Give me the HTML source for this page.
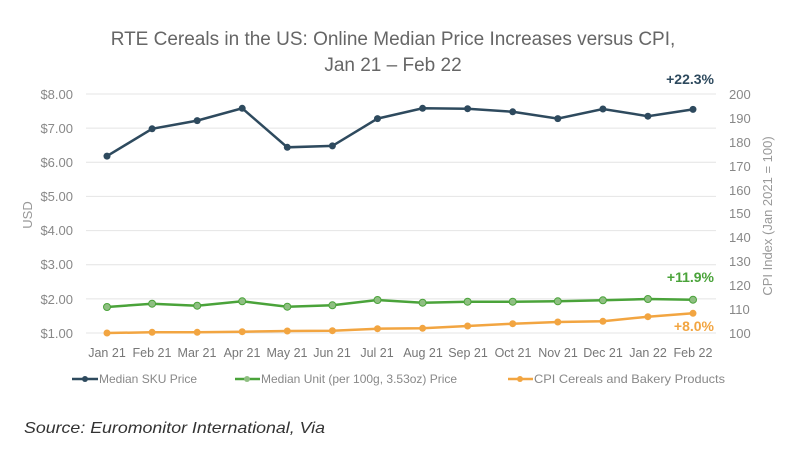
<!DOCTYPE html>
<html><head><meta charset="utf-8"><style>
html,body{margin:0;padding:0;background:#fff;}
svg text{font-family:"Liberation Sans",sans-serif;}
</style></head><body>
<svg width="800" height="454" viewBox="0 0 800 454" xmlns="http://www.w3.org/2000/svg">
<rect width="800" height="454" fill="#fff"/>
<text x="393" y="45" text-anchor="middle" font-size="19" fill="#666">RTE Cereals in the US: Online Median Price Increases versus CPI,</text>
<text x="393" y="71" text-anchor="middle" font-size="19" fill="#666">Jan 21 – Feb 22</text>
<g stroke="#e4e4e4" stroke-width="1">
<line x1="86" x2="716" y1="94" y2="94"/><line x1="86" x2="716" y1="128.1" y2="128.1"/>
<line x1="86" x2="716" y1="162.3" y2="162.3"/><line x1="86" x2="716" y1="196.4" y2="196.4"/>
<line x1="86" x2="716" y1="230.6" y2="230.6"/><line x1="86" x2="716" y1="264.7" y2="264.7"/>
<line x1="86" x2="716" y1="298.9" y2="298.9"/><line x1="86" x2="716" y1="333" y2="333"/>
</g>
<g font-size="13" fill="#888" text-anchor="end">
<text x="73" y="99">$8.00</text><text x="73" y="133">$7.00</text><text x="73" y="167">$6.00</text>
<text x="73" y="201">$5.00</text><text x="73" y="235">$4.00</text><text x="73" y="269">$3.00</text>
<text x="73" y="304">$2.00</text><text x="73" y="338">$1.00</text>
</g>
<g font-size="13" fill="#888">
<text x="729" y="99">200</text><text x="729" y="123">190</text><text x="729" y="147">180</text>
<text x="729" y="171">170</text><text x="729" y="195">160</text><text x="729" y="218">150</text>
<text x="729" y="242">140</text><text x="729" y="266">130</text><text x="729" y="290">120</text>
<text x="729" y="314">110</text><text x="729" y="338">100</text>
</g>
<text transform="translate(32,215) rotate(-90)" text-anchor="middle" font-size="13" fill="#999">USD</text>
<text transform="translate(772,216) rotate(-90)" text-anchor="middle" font-size="13" fill="#999">CPI Index (Jan 2021 = 100)</text>
<g font-size="12.5" fill="#777" text-anchor="middle">
<text x="107" y="357">Jan 21</text><text x="152" y="357">Feb 21</text><text x="197" y="357">Mar 21</text>
<text x="242" y="357">Apr 21</text><text x="287" y="357">May 21</text><text x="332" y="357">Jun 21</text>
<text x="377" y="357">Jul 21</text><text x="423" y="357">Aug 21</text><text x="468" y="357">Sep 21</text>
<text x="513" y="357">Oct 21</text><text x="558" y="357">Nov 21</text><text x="603" y="357">Dec 21</text>
<text x="648" y="357">Jan 22</text><text x="693" y="357">Feb 22</text>
</g>
<polyline fill="none" stroke="#2e4a5e" stroke-width="2.5" points="107,156.1 152.1,128.8 197.2,120.6 242.2,108.3 287.3,147.3 332.4,145.9 377.5,118.6 422.6,108.3 467.6,108.7 512.7,111.8 557.8,118.6 602.9,109 647.9,116.2 693,109.4"/>
<g fill="#2e4a5e"><circle cx="107" cy="156.1" r="3.5"/><circle cx="152.1" cy="128.8" r="3.5"/><circle cx="197.2" cy="120.6" r="3.5"/><circle cx="242.2" cy="108.3" r="3.5"/><circle cx="287.3" cy="147.3" r="3.5"/><circle cx="332.4" cy="145.9" r="3.5"/><circle cx="377.5" cy="118.6" r="3.5"/><circle cx="422.6" cy="108.3" r="3.5"/><circle cx="467.6" cy="108.7" r="3.5"/><circle cx="512.7" cy="111.8" r="3.5"/><circle cx="557.8" cy="118.6" r="3.5"/><circle cx="602.9" cy="109" r="3.5"/><circle cx="647.9" cy="116.2" r="3.5"/><circle cx="693" cy="109.4" r="3.5"/></g>
<polyline fill="none" stroke="#4aa33a" stroke-width="2.5" points="107,307 152.1,303.7 197.2,305.7 242.2,301.3 287.3,306.7 332.4,305.3 377.5,300 422.6,302.7 467.6,301.7 512.7,301.7 557.8,301.3 602.9,300.3 647.9,299 693,299.7"/>
<g fill="#8fbf82" stroke="#4aa33a" stroke-width="1"><circle cx="107" cy="307" r="3.5"/><circle cx="152.1" cy="303.7" r="3.5"/><circle cx="197.2" cy="305.7" r="3.5"/><circle cx="242.2" cy="301.3" r="3.5"/><circle cx="287.3" cy="306.7" r="3.5"/><circle cx="332.4" cy="305.3" r="3.5"/><circle cx="377.5" cy="300" r="3.5"/><circle cx="422.6" cy="302.7" r="3.5"/><circle cx="467.6" cy="301.7" r="3.5"/><circle cx="512.7" cy="301.7" r="3.5"/><circle cx="557.8" cy="301.3" r="3.5"/><circle cx="602.9" cy="300.3" r="3.5"/><circle cx="647.9" cy="299" r="3.5"/><circle cx="693" cy="299.7" r="3.5"/></g>
<polyline fill="none" stroke="#f2a541" stroke-width="2.5" points="107,333 152.1,332.3 197.2,332.3 242.2,331.7 287.3,331 332.4,330.7 377.5,328.7 422.6,328.3 467.6,326 512.7,323.7 557.8,322 602.9,321.3 647.9,316.7 693,313.3"/>
<g fill="#f2a541"><circle cx="107" cy="333" r="3.5"/><circle cx="152.1" cy="332.3" r="3.5"/><circle cx="197.2" cy="332.3" r="3.5"/><circle cx="242.2" cy="331.7" r="3.5"/><circle cx="287.3" cy="331" r="3.5"/><circle cx="332.4" cy="330.7" r="3.5"/><circle cx="377.5" cy="328.7" r="3.5"/><circle cx="422.6" cy="328.3" r="3.5"/><circle cx="467.6" cy="326" r="3.5"/><circle cx="512.7" cy="323.7" r="3.5"/><circle cx="557.8" cy="322" r="3.5"/><circle cx="602.9" cy="321.3" r="3.5"/><circle cx="647.9" cy="316.7" r="3.5"/><circle cx="693" cy="313.3" r="3.5"/></g>
<g font-size="14" font-weight="bold" text-anchor="end">
<text x="714" y="84" fill="#2e4a5e">+22.3%</text>
<text x="714" y="282" fill="#4aa33a">+11.9%</text>
<text x="714" y="331" fill="#f2a541">+8.0%</text>
</g>
<g font-size="12" fill="#888">
<line x1="72" x2="98" y1="379" y2="379" stroke="#2e4a5e" stroke-width="2.5"/><circle cx="85" cy="379" r="3" fill="#2e4a5e"/>
<text x="99" y="383">Median SKU Price</text>
<line x1="235" x2="260" y1="379" y2="379" stroke="#4aa33a" stroke-width="2.5"/><circle cx="247" cy="379" r="3" fill="#8fbf82"/>
<text x="261" y="383">Median Unit (per 100g, 3.53oz) Price</text>
<line x1="508" x2="533" y1="379" y2="379" stroke="#f2a541" stroke-width="2.5"/><circle cx="520" cy="379" r="3" fill="#f2a541"/>
<text x="534" y="383" textLength="191" lengthAdjust="spacingAndGlyphs">CPI Cereals and Bakery Products</text>
</g>
<text x="24" y="433" font-size="16" font-style="italic" fill="#333" textLength="301" lengthAdjust="spacingAndGlyphs">Source: Euromonitor International, Via</text>
</svg>
</body></html>
